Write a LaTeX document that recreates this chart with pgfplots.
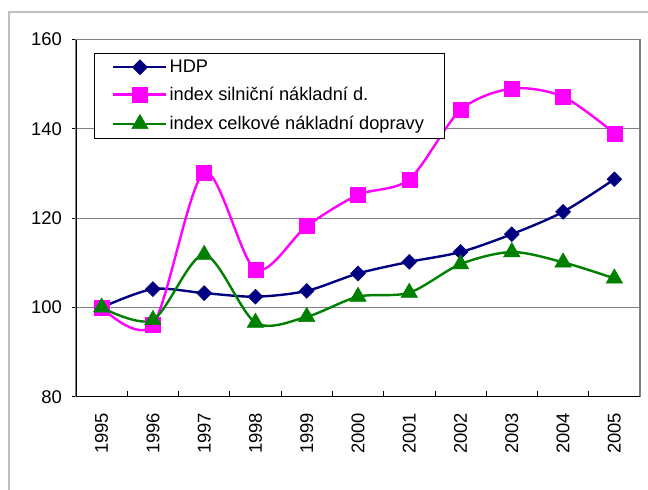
\documentclass[border=0pt]{standalone}
\usepackage{pgfplots}
\pgfplotsset{compat=1.18}
\usepackage{fontspec}
\setmainfont{Liberation Sans}
\definecolor{hdp}{HTML}{000080}
\definecolor{siln}{HTML}{FF00FF}
\definecolor{celk}{HTML}{008000}
\definecolor{gridg}{HTML}{808080}
\definecolor{frameg}{HTML}{C0C0C0}
\newcommand{\tlfont}{\fontsize{18.5}{20}\selectfont}
\begin{document}
\begin{tikzpicture}
\useasboundingbox (0bp,0bp) rectangle (648bp,490bp);
\fill[white] (0bp,0bp) rectangle (648bp,490bp);
\draw[frameg, line width=1.4bp] (9bp,0bp) -- (9bp,478bp) -- (648bp,478bp);
\begin{axis}[
  at={(76bp,93.3bp)}, anchor=south west,
  scale only axis, width=564bp, height=357.2bp,
  xmin=-0.5, xmax=10.5, ymin=80, ymax=160,
  ytick={80,100,...,160},
  xtick={0,...,10},
  xticklabels={1995,1996,1997,1998,1999,2000,2001,2002,2003,2004,2005},
  minor xtick={0.5,1.5,...,9.5},
  xtick pos=bottom, ytick pos=left,
  tick align=outside,
  major tick length=4bp, minor tick length=6bp,
  major x tick style={draw=none},
  minor x tick style={black, line width=0.8bp, yshift=6bp},
  y tick style={black, line width=0.8bp},
  ymajorgrids, grid style={gridg, line width=1bp},
  axis line style={gridg, line width=1.4bp},
  /pgf/number format/assume math mode=true,
  yticklabel style={font=\tlfont, inner sep=0pt, xshift=-10bp},
  xticklabel style={font=\tlfont, inner sep=0pt, yshift=-12bp, rotate=90, anchor=east},
  legend style={at={(0.032,0.962)}, anchor=north west, draw=black,
    font=\fontsize{18.3}{20}\selectfont, inner xsep=18bp, inner ysep=6.5bp,
    row sep=12.3bp,
    nodes={inner xsep=2bp, inner ysep=0pt, text height=13bp, text depth=2bp}},
  legend cell align=left,
  legend image code/.code={%
    \draw[#1, mark=none, line width=2.4bp] (0bp,0bp) -- (53bp,0bp);
    \draw[#1] plot coordinates {(26.5bp,0bp)};},
]
\addplot[hdp, line width=2.4bp, smooth, mark=square*, mark size=5.3bp,
  mark options={solid, rotate=45, fill=hdp, draw=hdp, line width=0.5bp}]
  coordinates {(0,100) (1,104.1) (2,103.2) (3,102.4) (4,103.7) (5,107.6) (6,110.2) (7,112.4) (8,116.4) (9,121.4) (10,128.7)};
\addlegendentry{HDP}
\addplot[siln, line width=2.4bp, smooth, mark=square*, mark size=7.5bp,
  mark options={solid, fill=siln, draw=siln, line width=0.5bp}]
  coordinates {(0,100) (1,96.1) (2,130.2) (3,108.5) (4,118.2) (5,125.2) (6,128.7) (7,144.2) (8,149.0) (9,147.2) (10,139.0)};
\addlegendentry{index silniční nákladní d.}
\addplot[celk, line width=2.4bp, smooth, mark=triangle*, mark size=9.5bp,
  mark options={solid, fill=celk, draw=celk, line width=0.5bp}]
  coordinates {(0,100) (1,97.2) (2,111.8) (3,96.6) (4,97.9) (5,102.4) (6,103.3) (7,109.7) (8,112.4) (9,110.1) (10,106.5)};
\addlegendentry{index celkové nákladní dopravy}
\draw[black, line width=1.4bp] (rel axis cs:0,1) -- (rel axis cs:0,0) -- (rel axis cs:1,0);
\end{axis}
\end{tikzpicture}
\end{document}
